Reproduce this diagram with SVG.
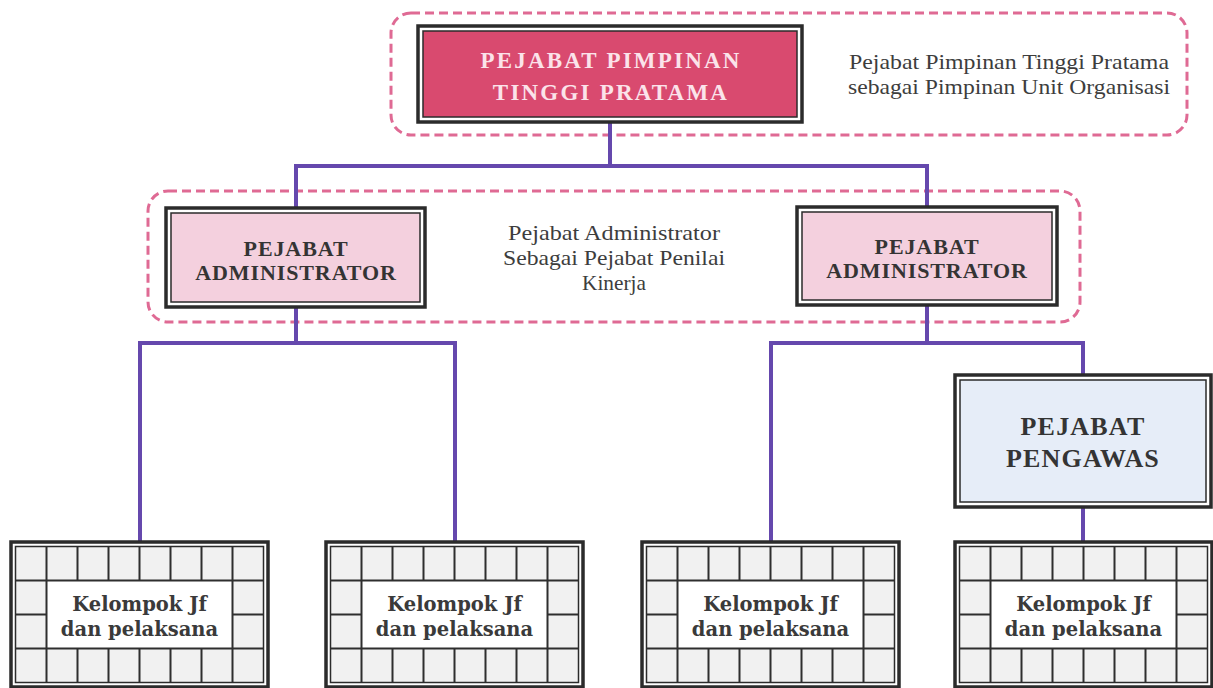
<svg xmlns="http://www.w3.org/2000/svg" xmlns:xlink="http://www.w3.org/1999/xlink" width="1213" height="688" viewBox="0 0 1213 688">
  <style>
    .frame { fill: none; stroke: #df6a94; stroke-width: 3; stroke-dasharray: 9 5; }
    .wire { fill: none; stroke: #6548ad; stroke-width: 4; stroke-linecap: square; }
    .outer { fill: #ffffff; stroke: #2b2b2b; stroke-width: 3.5; }
    .inner { stroke: #2b2b2b; stroke-width: 1.5; }
    .head { font-family: "Liberation Serif", "Times New Roman", serif; font-weight: bold; text-anchor: middle; }
    .note { font-family: "Liberation Serif", "Times New Roman", serif; font-size: 22px; fill: #3d3d3d; text-anchor: middle; }
    .grp { font-family: "DejaVu Serif", "Liberation Serif", serif; font-weight: bold; font-size: 19.5px; fill: #3a3a3a; text-anchor: middle; }
    .cell { fill: #f1f1f1; }
    .grid { fill: none; stroke: #2e2e2e; stroke-width: 2; }
  </style>
  <defs>
    <!-- tiled frame used by every "Kelompok Jf" block (257 x 145) -->
    <g id="tileBox">
      <rect class="outer" x="0" y="0" width="257" height="145"/>
      <rect class="cell inner" x="4.5" y="4.5" width="248" height="136"/>
      <rect x="36" y="38.5" width="185" height="68" fill="#ffffff"/>
      <path class="grid" d="M4.5 38.5 H252.5 M4.5 106.5 H252.5 M4.5 72.5 H36 M221 72.5 H252.5
        M35.5 4.5 V140.5 M221.5 4.5 V140.5
        M66.5 4.5 V38.5 M97.5 4.5 V38.5 M128.5 4.5 V38.5 M159.5 4.5 V38.5 M190.5 4.5 V38.5
        M66.5 106.5 V140.5 M97.5 106.5 V140.5 M128.5 106.5 V140.5 M159.5 106.5 V140.5 M190.5 106.5 V140.5"/>
    </g>
  </defs>

  <rect width="1213" height="688" fill="#ffffff"/>

  <!-- dashed grouping frames -->
  <rect class="frame" x="391" y="13" width="796" height="122" rx="20"/>
  <rect class="frame" x="148" y="191" width="932" height="131" rx="20"/>

  <!-- connectors -->
  <g id="connectors">
    <path class="wire" d="M610 122 V166 M296 166 H927 M296 166 V208 M927 166 V207"/>
    <path class="wire" d="M296 307 V343 M140 343 H455 M140 343 V542 M455 343 V542"/>
    <path class="wire" d="M927 305 V343 M771 343 H1083 M771 343 V542 M1083 343 V375"/>
    <path class="wire" d="M1083 507 V542"/>
  </g>

  <!-- head of the unit -->
  <g id="pimpinan">
    <rect class="outer" x="418" y="26" width="384" height="96"/>
    <rect class="inner" x="423" y="31" width="374" height="86" fill="#d94a6f"/>
    <text class="head" x="611" y="68" font-size="23" letter-spacing="2.2" fill="#fbe3ea">PEJABAT PIMPINAN</text>
    <text class="head" x="611" y="100" font-size="23" letter-spacing="2.2" fill="#fbe3ea">TINGGI PRATAMA</text>
  </g>
  <g id="note-pimpinan">
    <text class="note" x="1009" y="69" textLength="320" lengthAdjust="spacingAndGlyphs">Pejabat Pimpinan Tinggi Pratama</text>
    <text class="note" x="1009" y="94" textLength="322" lengthAdjust="spacingAndGlyphs">sebagai Pimpinan Unit Organisasi</text>
  </g>

  <!-- administrators -->
  <g id="admin-left">
    <rect class="outer" x="166" y="208" width="259" height="99"/>
    <rect class="inner" x="171" y="213" width="249" height="89" fill="#f4d0de"/>
    <text class="head" x="296" y="256" font-size="22" letter-spacing="0.9" fill="#343434">PEJABAT</text>
    <text class="head" x="296" y="280" font-size="22" letter-spacing="0.9" fill="#343434">ADMINISTRATOR</text>
  </g>
  <g id="note-admin">
    <text class="note" x="614" y="240" textLength="212" lengthAdjust="spacingAndGlyphs">Pejabat Administrator</text>
    <text class="note" x="614" y="265" textLength="222" lengthAdjust="spacingAndGlyphs">Sebagai Pejabat Penilai</text>
    <text class="note" x="614" y="290" textLength="64" lengthAdjust="spacingAndGlyphs">Kinerja</text>
  </g>
  <g id="admin-right">
    <rect class="outer" x="797" y="207" width="260" height="98"/>
    <rect class="inner" x="802" y="212" width="250" height="88" fill="#f4d0de"/>
    <text class="head" x="927" y="254" font-size="22" letter-spacing="0.9" fill="#343434">PEJABAT</text>
    <text class="head" x="927" y="278" font-size="22" letter-spacing="0.9" fill="#343434">ADMINISTRATOR</text>
  </g>

  <!-- supervisor -->
  <g id="pengawas">
    <rect class="outer" x="955" y="375" width="256" height="132"/>
    <rect class="inner" x="960" y="380" width="246" height="122" fill="#e6edf8"/>
    <text class="head" x="1083" y="435" font-size="26" letter-spacing="1.2" fill="#343434">PEJABAT</text>
    <text class="head" x="1083" y="467" font-size="26" letter-spacing="1.2" fill="#343434">PENGAWAS</text>
  </g>

  <!-- functional groups -->
  <g id="kelompok-1">
    <use xlink:href="#tileBox" x="11" y="542"/>
    <text class="grp" x="139.5" y="611">Kelompok Jf</text>
    <text class="grp" x="139.5" y="636">dan pelaksana</text>
  </g>
  <g id="kelompok-2">
    <use xlink:href="#tileBox" x="326" y="542"/>
    <text class="grp" x="454.5" y="611">Kelompok Jf</text>
    <text class="grp" x="454.5" y="636">dan pelaksana</text>
  </g>
  <g id="kelompok-3">
    <use xlink:href="#tileBox" x="642" y="542"/>
    <text class="grp" x="770.5" y="611">Kelompok Jf</text>
    <text class="grp" x="770.5" y="636">dan pelaksana</text>
  </g>
  <g id="kelompok-4">
    <use xlink:href="#tileBox" x="955" y="542"/>
    <text class="grp" x="1083.5" y="611">Kelompok Jf</text>
    <text class="grp" x="1083.5" y="636">dan pelaksana</text>
  </g>
</svg>
